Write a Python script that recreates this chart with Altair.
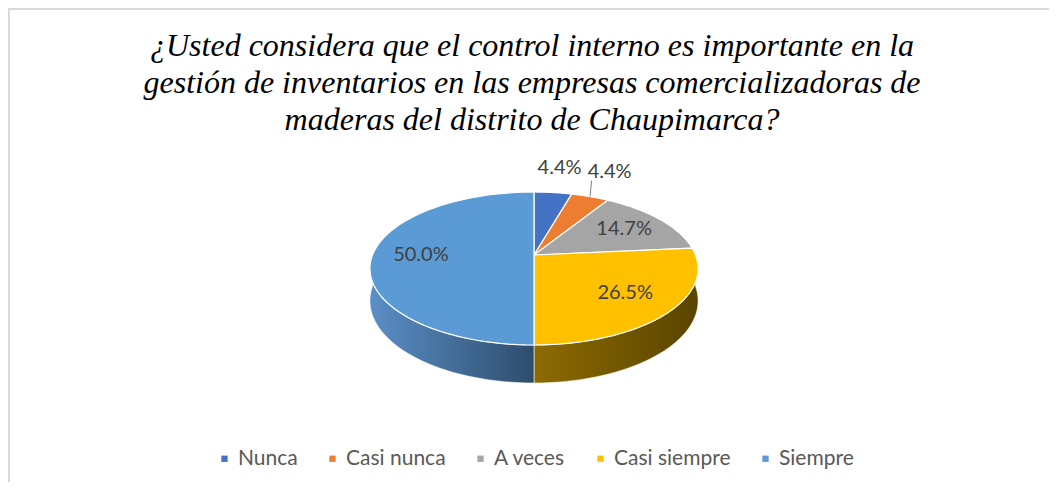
import altair as alt
import pandas as pd

# ---------------- data ----------------
categories = ["Nunca", "Casi nunca", "A veces", "Casi siempre", "Siempre"]
percentages = [4.4, 4.4, 14.7, 26.5, 50.0]
slice_colors = ["#4472C4", "#ED7D31", "#A5A5A5", "#FFC000", "#5B9BD5"]
title_lines = [
    "¿Usted considera que el control interno es importante en la",
    "gestión de inventarios en las empresas comercializadoras de",
    "maderas del distrito de Chaupimarca?",
]

# ---------------- layout / style constants ----------------
W, H = 1041, 474          # view size
X0, Y0 = 8, 8             # page offset of the view
CX, CY = 534, 255         # projected pie centre
RX, RY = 161.5, 74.1      # projected radii
K = 0.1765                # perspective factor
DEPTH = 31.3              # pie thickness
N = 72                    # arc sampling

side_gradients = {
    "Nunca": ["#2d4d86", "#1f355c"],
    "Casi nunca": ["#9c5220", "#6b3816"],
    "A veces": ["#6d6d6d", "#4b4b4b"],
    "Casi siempre": ["#8d6b00", "#5a4400"],
    "Siempre": ["#5a8fc6", "#2e4d6d"],
}

df = pd.DataFrame({"categoria": categories, "porcentaje": percentages,
                   "orden": list(range(len(categories)))})

xs = alt.Scale(domain=[X0, X0 + W], nice=False, zero=False)
ys = alt.Scale(domain=[Y0 + H, Y0], nice=False, zero=False)


def px(s, t):
    return f"{CX} + {RX}*({s})/(1 + {K}*({t}))"


def py(s, t):
    return f"{CY} - {RY}*({t})/(1 + {K}*({t}))"


base = (
    alt.Chart(df)
    .transform_joinaggregate(total="sum(porcentaje)")
    .transform_window(acum="sum(porcentaje)",
                      sort=[alt.SortField("orden", order="ascending")])
    .transform_calculate(a0="2*PI*(datum.acum - datum.porcentaje)/datum.total")
    .transform_calculate(a1="2*PI*datum.acum/datum.total")
)

# ---- side walls (front half only) ----
side_layers = []
for cat in categories:
    c_left, c_right = side_gradients[cat]
    grad = alt.Gradient(
        gradient="linear",
        stops=[alt.GradientStop(offset=0, color=c_left),
               alt.GradientStop(offset=1, color=c_right)],
        x1=0, x2=1, y1=0, y2=0,
    )
    side = (
        base.transform_filter(alt.datum.categoria == cat)
        .transform_calculate(lo="max(datum.a0, PI/2)")
        .transform_calculate(hi="min(datum.a1, 3*PI/2)")
        .transform_filter("datum.hi > datum.lo")
        .transform_calculate(paso=f"sequence(0, {2 * N + 2})")
        .transform_flatten(["paso"])
        .transform_calculate(j=f"datum.paso <= {N} ? datum.paso : {2 * N + 1} - datum.paso")
        .transform_calculate(th=f"datum.lo + (datum.hi - datum.lo)*datum.j/{N}")
        .transform_calculate(s="sin(datum.th)")
        .transform_calculate(t="cos(datum.th)")
        .transform_calculate(px=px("datum.s", "datum.t"))
        .transform_calculate(py=py("datum.s", "datum.t") +
                             f" + (datum.paso > {N} ? {DEPTH}/(1 + {K}*datum.t) : 0)")
        .mark_line(interpolate="linear-closed", fill=grad, stroke="white",
                   strokeWidth=0.8, strokeOpacity=0.7)
        .encode(
            x=alt.X("px:Q", scale=xs, axis=None),
            y=alt.Y("py:Q", scale=ys, axis=None),
            order=alt.Order("paso:Q"),
        )
    )
    side_layers.append(side)

# ---- top face ----
top = (
    base.transform_calculate(paso=f"sequence(0, {N + 2})")
    .transform_flatten(["paso"])
    .transform_calculate(th=f"datum.a0 + (datum.a1 - datum.a0)*min(datum.paso, {N})/{N}")
    .transform_calculate(rr=f"datum.paso > {N} ? 0 : 1")
    .transform_calculate(s="datum.rr*sin(datum.th)")
    .transform_calculate(t="datum.rr*cos(datum.th)")
    .transform_calculate(px=px("datum.s", "datum.t"))
    .transform_calculate(py=py("datum.s", "datum.t"))
    .mark_line(interpolate="linear-closed", stroke="white", strokeWidth=1.2,
               strokeJoin="round")
    .encode(
        x=alt.X("px:Q", scale=xs, axis=None),
        y=alt.Y("py:Q", scale=ys, axis=None),
        fill=alt.Fill(
            "categoria:N",
            scale=alt.Scale(domain=categories, range=slice_colors),
            legend=alt.Legend(
                title=None, orient="none", legendX=206, legendY=440,
                direction="horizontal", symbolType="square", symbolSize=40,
                symbolStrokeWidth=0, labelFont="Lato", labelFontSize=21,
                labelColor="#595959", columnPadding=24, labelOffset=3,
                padding=0,
            ),
        ),
        detail="categoria:N",
        order=alt.Order("paso:Q"),
    )
)

# ---- labels ----
lab = (
    base.transform_calculate(mid="(datum.a0 + datum.a1)/2")
    .transform_calculate(frac="datum.porcentaje/datum.total")
    .transform_calculate(fuera="datum.frac < 0.06")
    .transform_calculate(rr="datum.fuera ? 1 : 0.7")
    .transform_calculate(s="datum.rr*sin(datum.mid)")
    .transform_calculate(t="datum.rr*cos(datum.mid)")
    .transform_calculate(ex=px("datum.s", "datum.t"))
    .transform_calculate(ey=py("datum.s", "datum.t"))
    .transform_calculate(lx=f"datum.fuera ? {CX} + (datum.ex - {CX})*1.35 : datum.ex")
    .transform_calculate(ly="datum.fuera ? datum.ey - 25 : datum.ey")
    .transform_calculate(lx2="datum.lx - 18")
    .transform_calculate(ly2="datum.ly + 9")
    .transform_calculate(etiqueta="format(datum.frac, '.1%')")
)

labels = lab.mark_text(font="Lato", fontSize=20, color="#404040",
                       align="center", baseline="middle").encode(
    x=alt.X("lx:Q", scale=xs, axis=None),
    y=alt.Y("ly:Q", scale=ys, axis=None),
    text="etiqueta:N",
)

leaders = (
    lab.transform_filter("datum.fuera && abs(datum.lx - datum.ex) > 10")
    .mark_rule(color="#7f7f7f", strokeWidth=1)
    .encode(
        x=alt.X("ex:Q", scale=xs, axis=None),
        y=alt.Y("ey:Q", scale=ys, axis=None),
        x2="lx2:Q",
        y2="ly2:Q",
    )
)

one = pd.DataFrame({"k": [0]})
title = alt.Chart(one).mark_text(
    text=title_lines, font="Liberation Serif", fontStyle="italic", fontSize=32,
    lineHeight=37, color="#000000", align="center", baseline="alphabetic",
).encode(x=alt.value(524), y=alt.value(48))

border_top = alt.Chart(one).mark_rule(color="#d9d9d9", strokeWidth=2).encode(
    x=alt.value(0), x2=alt.value(W), y=alt.value(1))
border_left = alt.Chart(one).mark_rule(color="#d9d9d9", strokeWidth=2).encode(
    x=alt.value(1), y=alt.value(0), y2=alt.value(H))

chart = alt.layer(border_top, border_left, title, *side_layers, top, leaders, labels).properties(
    width=W, height=H,
    autosize=alt.AutoSizeParams(type="none"),
    padding=0,
    background="white",
).configure_view(stroke="transparent")

chart.save("out.html", embed_options={"renderer": "svg", "actions": False})
